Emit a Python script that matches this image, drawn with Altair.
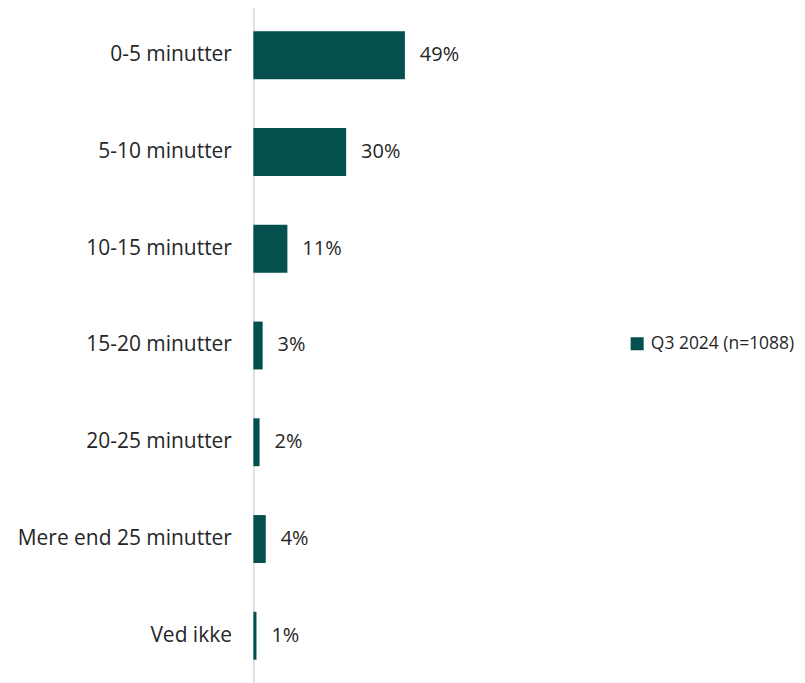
import altair as alt
import pandas as pd

categories = ["0-5 minutter", "5-10 minutter", "10-15 minutter", "15-20 minutter",
              "20-25 minutter", "Mere end 25 minutter", "Ved ikke"]
values = [49, 30, 11, 3, 2, 4, 1]
series = "Q3 2024 (n=1088)"

df = pd.DataFrame({"cat": categories, "val": values, "series": series})
df["label"] = df["val"].astype(str) + "%"

FONT = "Open Sans"
FS = 20
y = alt.Y("cat:N", sort=categories, title=None,
          scale=alt.Scale(paddingInner=0.5, paddingOuter=0.25),
          axis=alt.Axis(ticks=False, labelFontSize=21, labelFont=FONT, labelColor="#262626",
                        labelPadding=22, domainColor="#d9d9d9", domainWidth=1.5, labelLimit=400))
x = alt.X("val:Q", scale=alt.Scale(domain=[0, 100]), axis=None)

bars = alt.Chart(df).mark_bar(size=48).encode(
    x=x, y=y,
    color=alt.Color("series:N", scale=alt.Scale(range=["#03504F"]), title=None,
                    legend=alt.Legend(orient="none", legendX=376, legendY=329,
                                      symbolType="square", symbolSize=170, symbolStrokeWidth=0,
                                      labelFontSize=17.5, labelFont=FONT, labelColor="#262626",
                                      labelLimit=400, labelOffset=5))
)
text = alt.Chart(df).mark_text(align="left", dx=15, fontSize=FS, font=FONT, color="#262626").encode(
    x=x, y=y, text="label:N")

chart = (bars + text).properties(
    width=310, height=679,
    autosize=alt.AutoSizeParams(type="none"),
    padding={"left": 246, "top": -2, "right": 235, "bottom": 0},
).configure_view(stroke=None)

chart.save("out.html", embed_options={"renderer": "svg", "actions": False})
